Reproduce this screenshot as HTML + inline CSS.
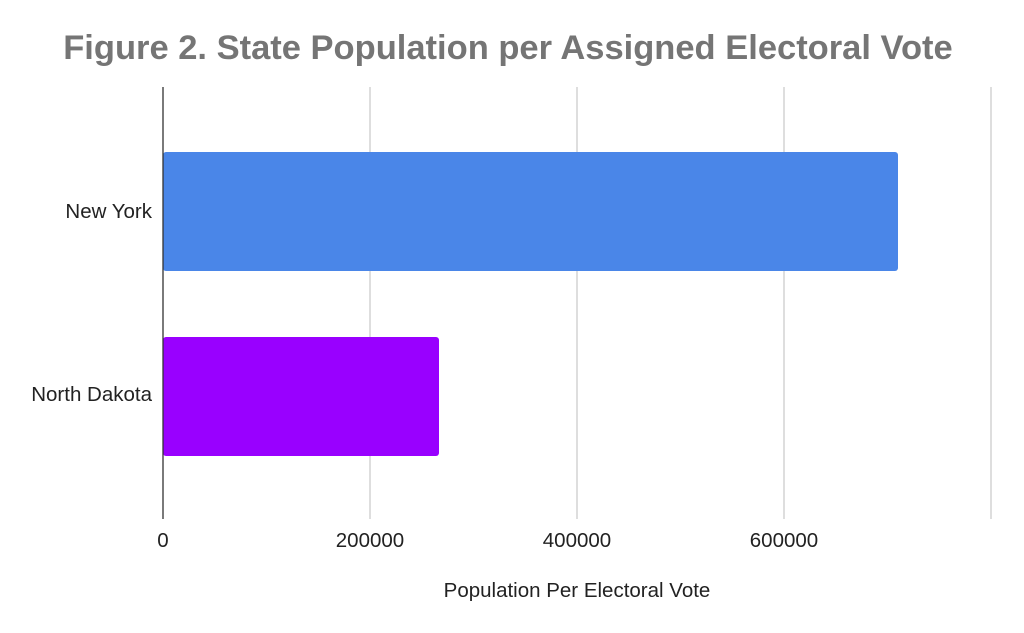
<!DOCTYPE html>
<html><head><meta charset="utf-8"><style>
html,body{margin:0;padding:0;background:#fff;}
svg{display:block;font-family:"Liberation Sans",Arial,sans-serif;}
</style></head><body>
<svg width="1024" height="633" viewBox="0 0 1024 633">
<rect width="1024" height="633" fill="#fff"/>
<text x="508" y="59" text-anchor="middle" font-size="34.5" font-weight="bold" fill="#757575">Figure 2. State Population per Assigned Electoral Vote</text>
<g stroke="#cccccc" stroke-width="1.3">
<line x1="370" y1="87" x2="370" y2="519"/>
<line x1="577" y1="87" x2="577" y2="519"/>
<line x1="784" y1="87" x2="784" y2="519"/>
<line x1="991" y1="87" x2="991" y2="519"/>
</g>
<rect x="163" y="152" width="735" height="119" rx="3" fill="#4a86e8"/>
<rect x="163" y="337" width="276" height="119" rx="3" fill="#9900ff"/>
<line x1="163" y1="87" x2="163" y2="519" stroke="#333" stroke-width="1.3"/>
<g font-size="20.5" fill="#222">
<text x="152" y="218" text-anchor="end">New York</text>
<text x="152" y="401" text-anchor="end">North Dakota</text>
<text x="163" y="547" text-anchor="middle">0</text>
<text x="370" y="547" text-anchor="middle">200000</text>
<text x="577" y="547" text-anchor="middle">400000</text>
<text x="784" y="547" text-anchor="middle">600000</text>
<text x="577" y="597" text-anchor="middle">Population Per Electoral Vote</text>
</g>
</svg>
</body></html>
